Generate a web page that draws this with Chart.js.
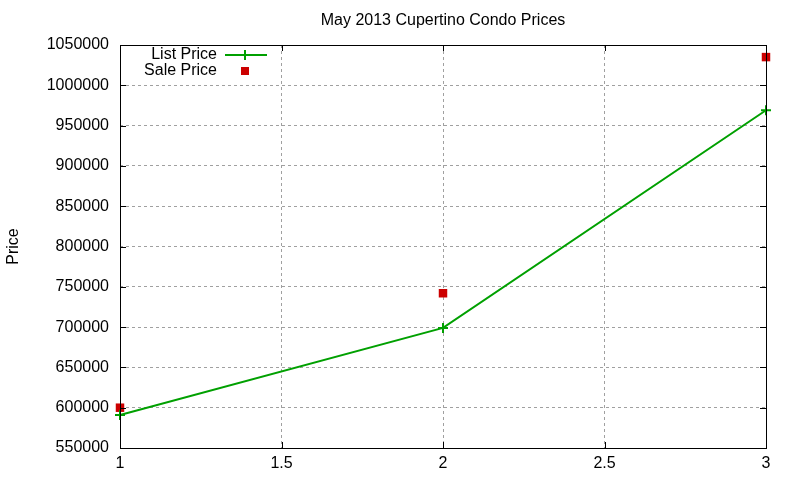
<!DOCTYPE html>
<html>
<head>
<meta charset="utf-8">
<script src="https://cdn.jsdelivr.net/npm/chart.js@4/dist/chart.umd.min.js"></script>
<style>
  html, body { margin: 0; padding: 0; background: #fff; }
  #wrap { width: 800px; height: 480px; }
</style>
</head>
<body>
<div id="wrap"><canvas id="condo-chart" width="800" height="480"></canvas></div>
<script>
// values
const months = [1, 2, 3];
const listPrice = [591000, 699000, 969000];
const salePrice = [600000, 742000, 1035000];
const xTicks = [1, 1.5, 2, 2.5, 3];
const yTicks = [550000, 600000, 650000, 700000, 750000, 800000, 850000, 900000, 950000, 1000000, 1050000];
const chartTitle = 'May 2013 Cupertino Condo Prices';

const FONT = "'Liberation Sans', Arial, sans-serif";
const GREEN = '#00a000';
const RED = '#cc0000';

// gnuplot style frame, inward ticks, title over the plot and the key in the top left corner
const gnuplotFrame = {
  id: 'gnuplotFrame',
  afterDatasetsDraw: function (chart) {
    const ctx = chart.ctx;
    const a = chart.chartArea;
    const xs = chart.scales.x;
    const ys = chart.scales.y;
    ctx.save();
    ctx.strokeStyle = '#000';
    ctx.lineWidth = 1;
    ctx.beginPath();
    xTicks.forEach(function (v) {
      const px = Math.round(xs.getPixelForValue(v)) + 0.5;
      ctx.moveTo(px, a.bottom); ctx.lineTo(px, a.bottom - 6);
      ctx.moveTo(px, a.top); ctx.lineTo(px, a.top + 6);
    });
    yTicks.forEach(function (v) {
      const py = Math.round(ys.getPixelForValue(v)) + 0.5;
      ctx.moveTo(a.left, py); ctx.lineTo(a.left + 6, py);
      ctx.moveTo(a.right, py); ctx.lineTo(a.right - 6, py);
    });
    ctx.stroke();
    ctx.strokeRect(Math.round(a.left) + 0.5, Math.round(a.top) + 0.5,
      Math.round(a.right - a.left), Math.round(a.bottom - a.top));

    // title
    ctx.font = '16px ' + FONT;
    ctx.fillStyle = '#000';
    ctx.textAlign = 'center';
    ctx.textBaseline = 'middle';
    ctx.fillText(chartTitle, (a.left + a.right) / 2, 21);

    // key
    ctx.textAlign = 'right';
    ctx.fillText(chart.data.datasets[0].label, 217, 55);
    ctx.fillText(chart.data.datasets[1].label, 217, 71);
    ctx.strokeStyle = GREEN;
    ctx.lineWidth = 2;
    ctx.beginPath();
    ctx.moveTo(225, 55); ctx.lineTo(267, 55);
    ctx.moveTo(245, 50); ctx.lineTo(245, 60);
    ctx.stroke();
    ctx.fillStyle = RED;
    ctx.fillRect(241, 67, 8, 8);
    ctx.restore();
  }
};

new Chart(document.getElementById('condo-chart'), {
  type: 'scatter',
  data: {
    datasets: [{
      label: 'List Price',
      data: months.map(function (m, i) { return { x: m, y: listPrice[i] }; }),
      showLine: true,
      tension: 0,
      borderColor: GREEN,
      backgroundColor: GREEN,
      borderWidth: 2,
      pointStyle: 'cross',
      pointRadius: 5,
      pointBorderWidth: 2,
      clip: false
    },
    {
      label: 'Sale Price',
      data: months.map(function (m, i) { return { x: m, y: salePrice[i] }; }),
      showLine: false,
      borderColor: RED,
      backgroundColor: RED,
      pointStyle: 'rect',
      pointRadius: 6,
      pointBorderWidth: 0,
      clip: false
    }]
  },
  options: {
    responsive: false,
    animation: false,
    devicePixelRatio: 1,
    layout: { padding: { left: 0, right: 34, top: 45, bottom: 0 } },
    plugins: {
      legend: { display: false },
      tooltip: { enabled: false },
      title: { display: false }
    },
    scales: {
      x: {
        type: 'linear',
        min: 1,
        max: 3,
        afterBuildTicks: function (scale) {
          scale.ticks = xTicks.map(function (v) { return { value: v }; });
        },
        afterFit: function (scale) { scale.height = 32; },
        grid: {
          color: '#a0a0a0',
          drawTicks: false
        },
        border: { display: false, dash: [3, 3] },
        ticks: {
          color: '#000',
          padding: 6,
          font: { family: FONT, size: 16 },
          callback: function (v) { return String(v); }
        }
      },
      y: {
        type: 'linear',
        min: 550000,
        max: 1050000,
        afterBuildTicks: function (scale) {
          scale.ticks = yTicks.map(function (v) { return { value: v }; });
        },
        afterFit: function (scale) { scale.width = 120; },
        grid: {
          color: '#a0a0a0',
          drawTicks: false
        },
        border: { display: false, dash: [3, 3] },
        title: {
          display: true,
          text: 'Price',
          color: '#000',
          font: { family: FONT, size: 16 }
        },
        ticks: {
          color: '#000',
          padding: 11,
          font: { family: FONT, size: 16 },
          callback: function (v) { return String(v); }
        }
      }
    }
  },
  plugins: [gnuplotFrame]
});
</script>
</body>
</html>
